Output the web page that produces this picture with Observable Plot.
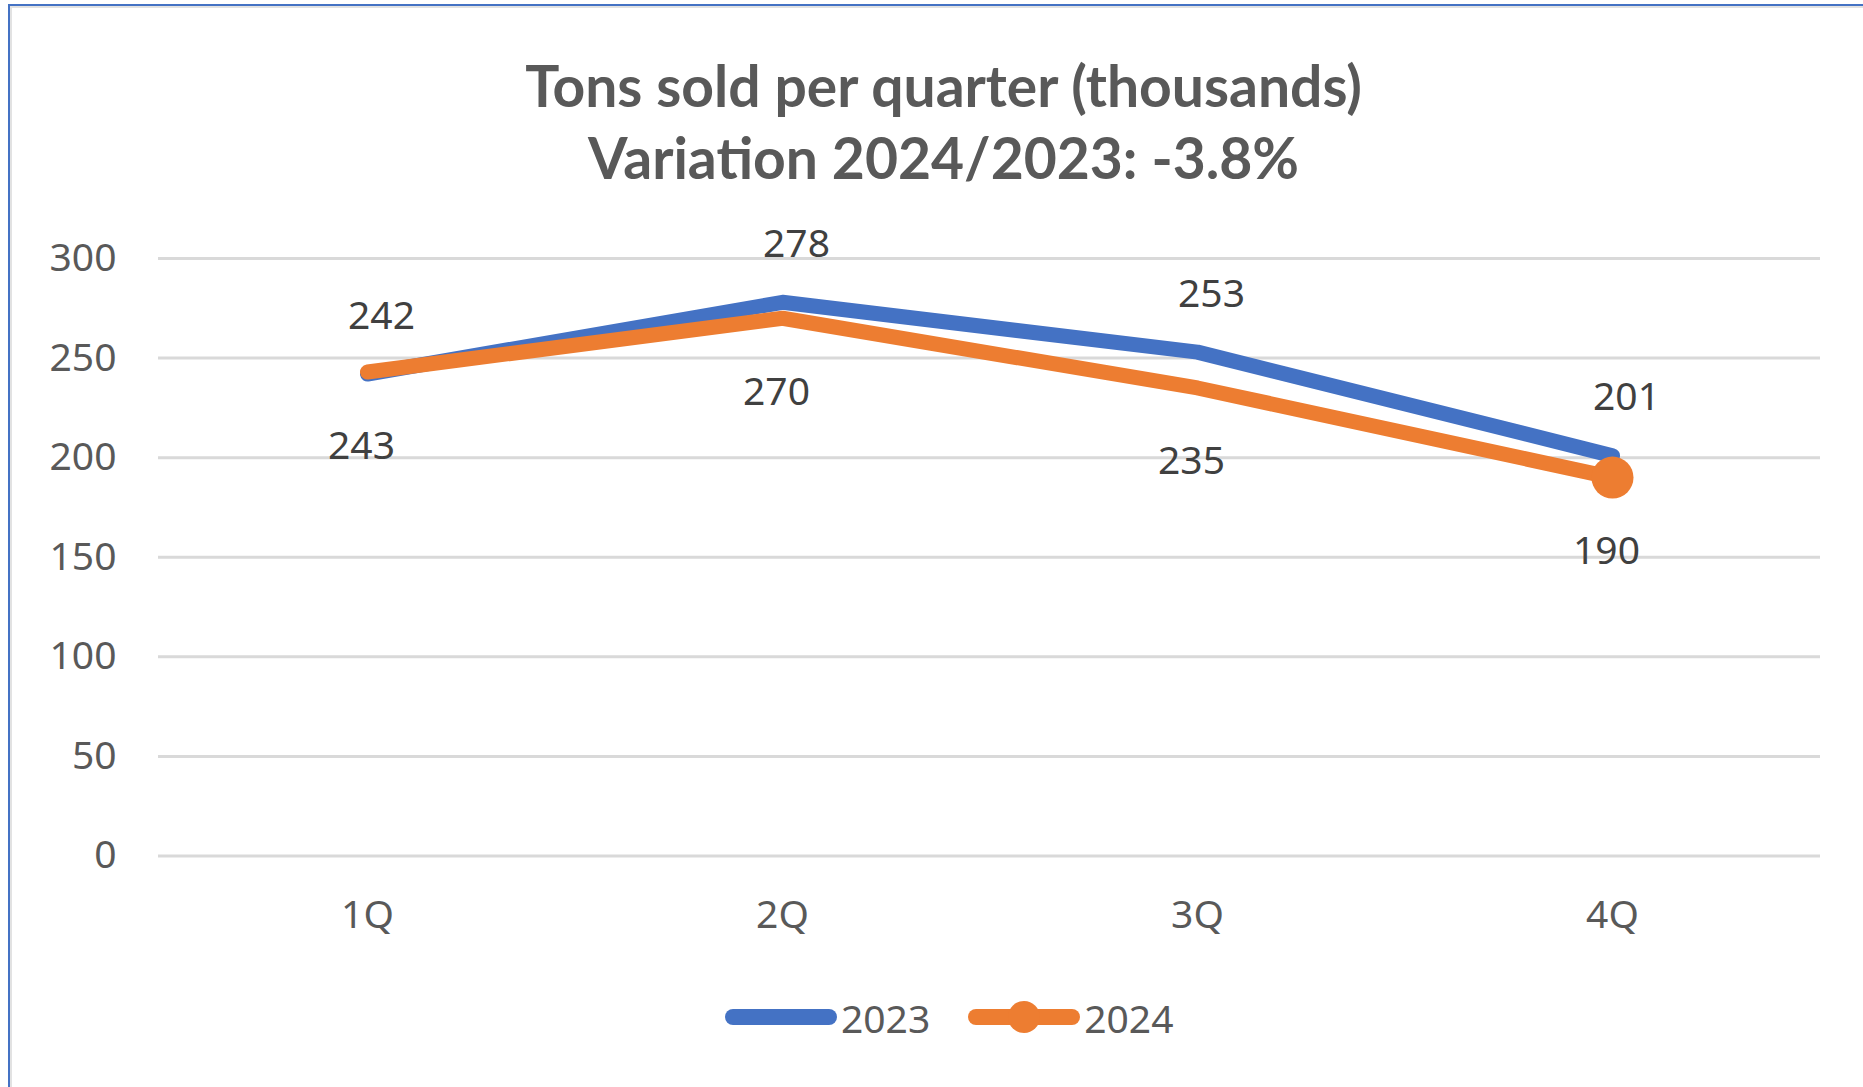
<!DOCTYPE html>
<html>
<head>
<meta charset="utf-8">
<script src="https://cdn.jsdelivr.net/npm/d3@7"></script>
<script src="https://cdn.jsdelivr.net/npm/@observablehq/plot@0.6"></script>
<style>
  html, body { margin: 0; padding: 0; background: #ffffff; width: 1863px; height: 1087px; overflow: hidden; }
  #frame { position: absolute; left: 8px; top: 4px; width: 1900px; height: 1120px;
           border-top: 2px solid #4472C4; border-left: 2px solid #4472C4; box-sizing: border-box; }
  #frame::after { content: ""; position: absolute; left: 0; top: 0; right: 0; bottom: 0;
           border-top: 2px solid #e2e2e2; border-left: 2px solid #e2e2e2; }
  #title { position: absolute; left: 12px; width: 1863px; top: 49px; text-align: center;
           font-family: Lato, "Open Sans", sans-serif; font-weight: 700; font-size: 57px;
           line-height: 72px; color: #595959; }
  #chart { position: absolute; left: 0; top: 200px; }
  #legend { position: absolute; left: 724px; top: 992px; height: 50px; display: flex; align-items: center;
            font-family: "Noto Sans", sans-serif; font-size: 39px; color: #595959; }
  #legend .item { display: flex; align-items: center; }
  #legend svg { display: block; }
</style>
</head>
<body>
<div id="frame"></div>
<div id="title">Tons sold per quarter (thousands)<br>Variation 2024/2023: -3.8%</div>
<div id="chart"></div>
<div id="legend"></div>
<script>
// ---- data ----
const quarters = ["1Q", "2Q", "3Q", "4Q"];
const sales2023 = [242, 278, 253, 201];
const sales2024 = [243, 270, 235, 190];
const yTicks = [0, 50, 100, 150, 200, 250, 300];
const seriesNames = ["2023", "2024"];
const seriesColors = ["#4472C4", "#ED7D31"];

const rows2023 = quarters.map((q, i) => ({quarter: q, year: seriesNames[0], value: sales2023[i]}));
const rows2024 = quarters.map((q, i) => ({quarter: q, year: seriesNames[1], value: sales2024[i]}));
const lastQuarter = quarters[quarters.length - 1];

const chart = Plot.plot({
  width: 1863,
  height: 760,
  marginLeft: 158,
  marginRight: 43,
  marginTop: 58,
  marginBottom: 104.5,
  style: {fontFamily: "'Noto Sans', sans-serif", fontSize: "39px", color: "#595959", background: "transparent"},
  x: {type: "point", domain: quarters, padding: 0.5, label: null},
  y: {domain: [0, 300], ticks: yTicks, label: null},
  marks: [
    Plot.gridY(yTicks, {stroke: "#d9d9d9", strokeOpacity: 1, strokeWidth: 3}),
    Plot.axisY(yTicks, {tickSize: 0, tickPadding: 42, fontSize: 39, label: null}),
    Plot.axisX({tickSize: 0, tickPadding: 44, fontSize: 39, label: null}),
    Plot.line(rows2023, {x: "quarter", y: "value", stroke: seriesColors[0], strokeWidth: 15,
      strokeLinecap: "round", strokeLinejoin: "round"}),
    Plot.line(rows2024, {x: "quarter", y: "value", stroke: seriesColors[1], strokeWidth: 15,
      strokeLinecap: "round", strokeLinejoin: "round"}),
    Plot.dot(rows2024.filter(d => d.quarter === lastQuarter), {x: "quarter", y: "value", r: 21,
      fill: seriesColors[1], stroke: "none"}),
    Plot.text(rows2023, {x: "quarter", y: "value", text: d => String(d.value), dx: 14, dy: -58,
      fontSize: 39, fill: "#404040"}),
    Plot.text(rows2024, {x: "quarter", y: "value", text: d => String(d.value), dx: -6, dy: 74,
      fontSize: 39, fill: "#404040"})
  ]
});
document.getElementById("chart").appendChild(chart);

// ---- legend ----
const legend = document.getElementById("legend");
seriesNames.forEach((name, i) => {
  const item = document.createElement("div");
  item.className = "item";
  item.style.marginRight = i === 0 ? "37px" : "0";
  const ns = "http://www.w3.org/2000/svg";
  const svg = document.createElementNS(ns, "svg");
  svg.setAttribute("width", 114);
  svg.setAttribute("height", 40);
  const ln = document.createElementNS(ns, "line");
  ln.setAttribute("x1", 9); ln.setAttribute("x2", 105);
  ln.setAttribute("y1", 20); ln.setAttribute("y2", 20);
  ln.setAttribute("stroke", seriesColors[i]);
  ln.setAttribute("stroke-width", 16);
  ln.setAttribute("stroke-linecap", "round");
  svg.appendChild(ln);
  if (i === 1) {
    const c = document.createElementNS(ns, "circle");
    c.setAttribute("cx", 57); c.setAttribute("cy", 20); c.setAttribute("r", 16);
    c.setAttribute("fill", seriesColors[i]);
    svg.appendChild(c);
  }
  const label = document.createElement("span");
  label.textContent = name;
  label.style.marginLeft = "3px";
  item.appendChild(svg);
  item.appendChild(label);
  legend.appendChild(item);
});
</script>
</body>
</html>
